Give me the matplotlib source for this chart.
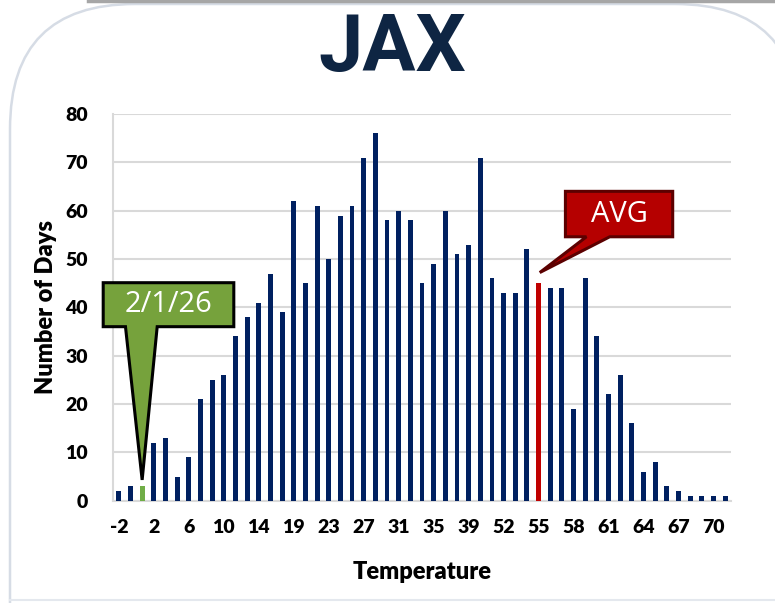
import numpy as np
import matplotlib.pyplot as plt
from matplotlib.patches import FancyBboxPatch, Polygon

# temperature categories (only every 3rd one is labelled on the axis)
temps = ['-2', '-1', '1', '2', '4', '5', '6', '8', '9', '10', '12', '13',
         '14', '16', '17', '19', '20', '22', '23', '24', '26', '27', '28', '30',
         '31', '32', '34', '35', '36', '38', '39', '43', '48', '52', '53', '54',
         '55', '56', '57', '58', '59', '60', '61', '62', '63', '64', '65', '66',
         '67', '68', '69', '70', '71']
days = [2, 3, 3, 12, 13, 5, 9, 21, 25, 26, 34, 38,
        41, 47, 39, 62, 45, 61, 50, 59, 61, 71, 76, 58,
        60, 58, 45, 49, 60, 51, 53, 71, 46, 43, 43, 52,
        45, 44, 44, 19, 46, 34, 22, 26, 16, 6, 8, 3,
        2, 1, 1, 1, 1]
today_idx = 2   # 2/1/26
avg_idx = 36    # AVG

navy = '#002060'
colors = [navy] * len(days)
colors[today_idx] = '#70AD47'
colors[avg_idx] = '#C00000'

W, H = 775, 603
fig = plt.figure(figsize=(W / 100, H / 100), dpi=100)

def px(x, y):
    return x / W, 1 - y / H

# background axes in pixel units for the rounded panel
bg = fig.add_axes([0, 0, 1, 1], zorder=-1)
bg.set_xlim(0, W)
bg.set_ylim(H, 0)
bg.axis('off')
bg.add_patch(FancyBboxPatch((10, 4), 790, 800,
                            boxstyle='round,pad=0,rounding_size=125',
                            fc='white', ec='#D6DCE5', lw=1.8))
bg.plot([10, W], [600, 600], color='#E4E8EE', lw=1.5)
bg.plot([88, W], [1, 1], color='#A6A6A6', lw=2.5)

fig.text(*px(392, 49), 'JAX', ha='center', va='center', fontsize=57,
         fontweight='bold', family='Roboto', color='#0E2543')

l, b = px(113, 500.7)
r, t = px(731, 114)
ax = fig.add_axes([l, b, r - l, t - b])
ax.set_facecolor('none')

x = np.arange(len(days))
ax.bar(x, days, width=0.42, color=colors, zorder=3)

ax.set_xlim(-0.5, len(days) - 0.5)
ax.set_ylim(0, 80)
ax.set_yticks(range(0, 81, 10))
ax.set_xticks(x[::3])
ax.set_xticklabels(temps[::3])
ax.grid(axis='y', color='#D9D9D9', lw=1.5, zorder=0)
for s in ['top', 'right']:
    ax.spines[s].set_visible(False)
ax.spines['left'].set_color('#D9D9D9')
ax.spines['left'].set_linewidth(1.5)
ax.spines['bottom'].set_color('#D9D9D9')
ax.spines['bottom'].set_linewidth(1.5)
ax.tick_params(length=0, labelsize=14, pad=13)
for lab in ax.get_xticklabels() + ax.get_yticklabels():
    lab.set_fontweight('heavy')
    lab.set_family('Lato')
ax.tick_params(axis='y', pad=18)

ax.set_xlabel('Temperature', fontsize=17, fontweight='heavy', family='Lato',
              labelpad=18)
ax.set_ylabel('Number of Days', fontsize=17, fontweight='heavy', family='Lato',
              labelpad=6)

# callouts (box + pointer in data coordinates)
def callout(x0, x1, y0, y1, pb0, pb1, tip, fc, ec, text):
    pts = [(x0, y1), (x1, y1), (x1, y0), (pb1, y0), tip, (pb0, y0), (x0, y0)]
    ax.add_patch(Polygon(pts, closed=True, fc=fc, ec=ec, lw=2.2,
                         clip_on=False, zorder=5, joinstyle='miter'))
    ax.text((x0 + x1) / 2, (y0 + y1) / 2, text, ha='center', va='center',
            color='white', fontsize=21, family='Open Sans', zorder=6)

callout(-1.34, 9.86, 36.0, 45.1, 0.57, 3.29, (2.0, days[today_idx] + 1.3),
        '#76A23C', 'black', '2/1/26')
callout(38.3, 47.5, 54.6, 64.0, 40.1, 42.1, (36.1, days[avg_idx] + 2.2),
        '#B50000', '#5C0000', 'AVG')

fig.savefig('out.png', dpi=100)
